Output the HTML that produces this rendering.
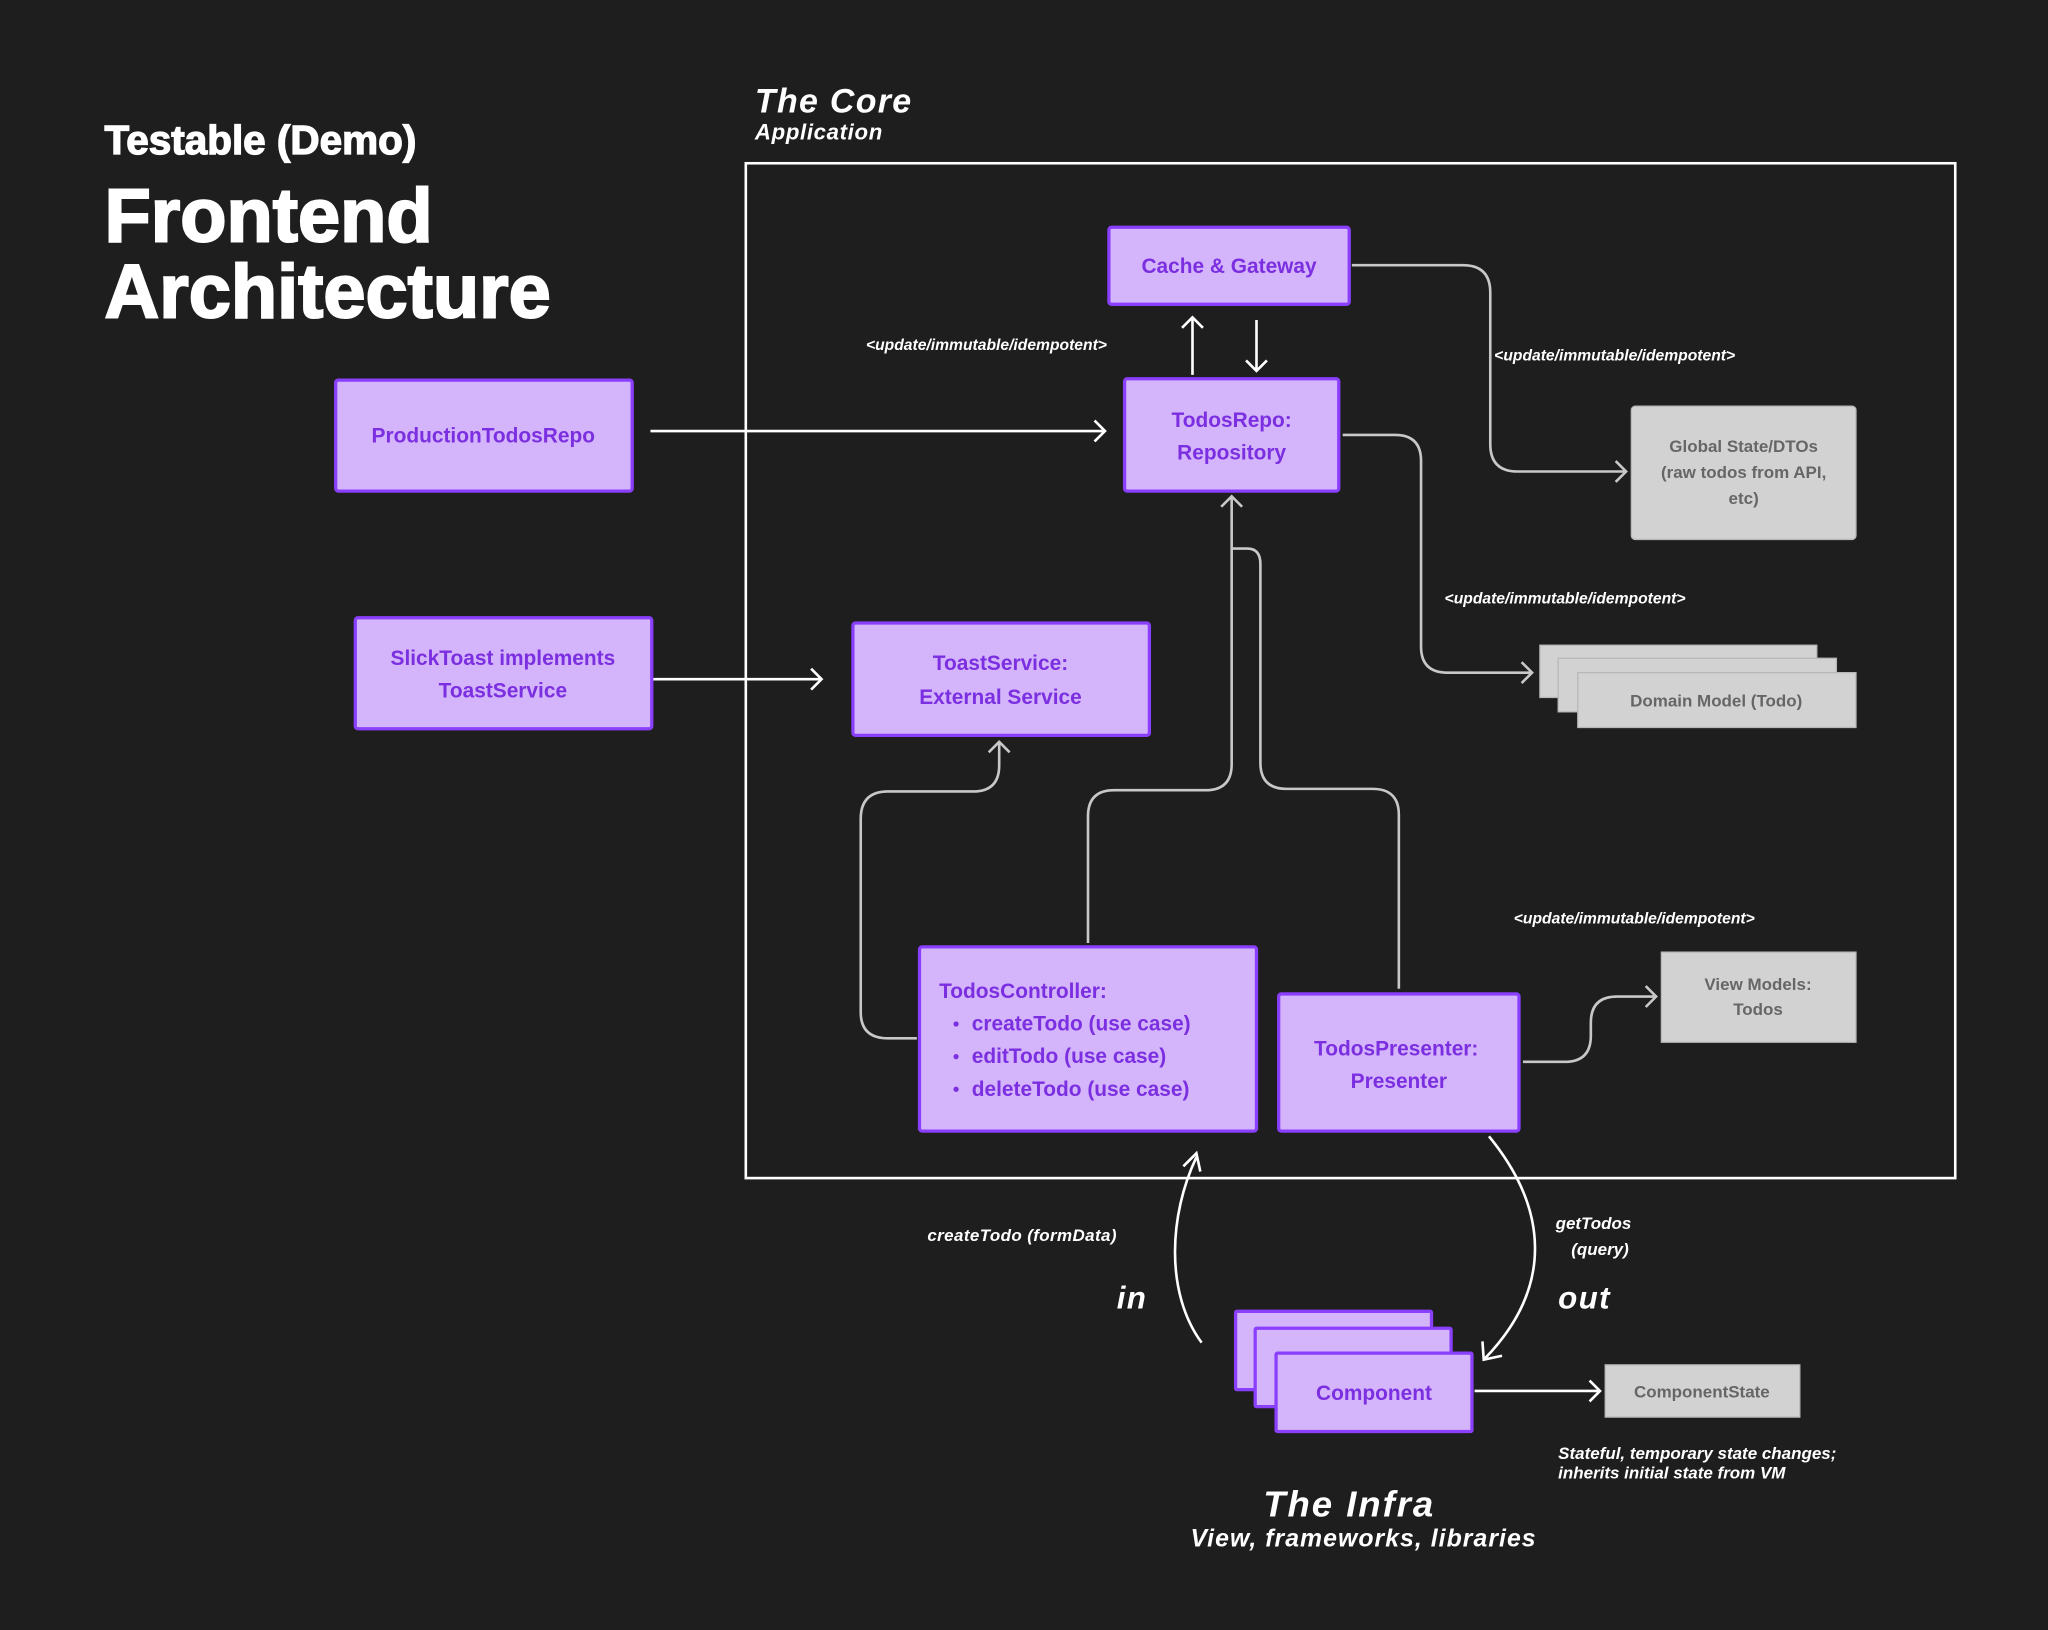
<!DOCTYPE html>
<html><head><meta charset="utf-8"><style>
html,body{margin:0;padding:0;background:#1e1e1e;}
svg{display:block}
text{font-family:"Liberation Sans",sans-serif;}
.b{fill:#d4b5fb;stroke:#8a3ffc;stroke-width:2.5}
.bt{fill:#7b2fe0;font-weight:bold;font-size:16px;text-anchor:middle}
.g{fill:#d2d2d2;stroke:#b8b8b8;stroke-width:1}
.gt{fill:#666;font-weight:bold;font-size:13px;text-anchor:middle}
.w{fill:none;stroke:#fff;stroke-width:2}
.gr{fill:none;stroke:#c8c8c8;stroke-width:2}
.lab{fill:#fff;font-weight:bold;font-style:italic;font-size:12px}
.ttl{fill:#fff;font-weight:bold;stroke:#fff}
</style></head><body>
<svg width="2048" height="1630" viewBox="0 0 1568 1248" xmlns="http://www.w3.org/2000/svg">
<rect width="1568" height="1248" fill="#1e1e1e"/>
<text class="ttl" x="80" y="118" style="font-size:31px;stroke-width:1">Testable (Demo)</text>
<text class="ttl" x="80" y="185" style="font-size:58px;stroke-width:1.6">Frontend</text>
<text class="ttl" x="80" y="243" style="font-size:58px;stroke-width:1.6">Architecture</text>
<text x="578" y="86" fill="#fff" font-weight="bold" font-style="italic" font-size="26" letter-spacing="1">The Core</text>
<text x="578" y="107" fill="#fff" font-weight="bold" font-style="italic" font-size="17" letter-spacing="0.5">Application</text>
<rect x="571" y="125" width="926" height="777" fill="none" stroke="#fff" stroke-width="2"/>

<g class="w">
<path d="M498 330H846M838 322l8 8-8 8"/>
<path d="M913 287V243M905 251l8-8 8 8"/>
<path d="M962 245V284M954 276l8 8 8-8"/>
<path d="M500 520H629M621 512l8 8-8 8"/>
<path d="M920 1028C892 990 895 930 916 886"/>
<path d="M906 893l10-10 3 14"/>
<path d="M1140 870C1185 925 1190 985 1137 1040"/>
<path d="M1135 1027l1 14 14-3"/>
<path d="M1129 1065H1225M1217 1057l8 8-8 8"/>
</g>
<g class="gr">
<path d="M1035 203H1120Q1141 203 1141 224V340Q1141 361 1162 361H1245M1237 353l8 8-8 8"/>
<path d="M1028 333H1068Q1088 333 1088 353V495Q1088 515 1108 515H1173M1165 507l8 8-8 8"/>
<path d="M833 722V625Q833 605 853 605H923Q943 605 943 585V380M935 388l8-8 8 8"/>
<path d="M1071 757V624Q1071 604 1051 604H985Q965 604 965 584V432Q965 420 955 420H943"/>
<path d="M702 795H680Q659 795 659 775V627Q659 606 680 606H745Q765 606 765 586V568M757 576l8-8 8 8"/>
<path d="M1166 813H1198Q1218 813 1218 793V783Q1218 763 1238 763H1268M1260 755l8 8-8 8"/>
</g>

<rect class="b" x="849" y="174" width="184" height="59" rx="2"/>
<text class="bt" x="941" y="209">Cache &amp; Gateway</text>
<rect class="b" x="861" y="290" width="164" height="86" rx="2"/>
<text class="bt" x="943" y="327">TodosRepo:</text>
<text class="bt" x="943" y="352">Repository</text>
<rect class="b" x="257" y="291" width="227" height="85" rx="2"/>
<text class="bt" x="370" y="339">ProductionTodosRepo</text>
<rect class="b" x="272" y="473" width="227" height="85" rx="2"/>
<text class="bt" x="385" y="509">SlickToast implements</text>
<text class="bt" x="385" y="534">ToastService</text>
<rect class="b" x="653" y="477" width="227" height="86" rx="2"/>
<text class="bt" x="766" y="513">ToastService:</text>
<text class="bt" x="766" y="539">External Service</text>
<rect class="b" x="704" y="725" width="258" height="141" rx="2"/>
<g class="bt" style="text-anchor:start">
<text x="719" y="764">TodosController:</text>
<text x="744" y="789">createTodo (use case)</text>
<text x="744" y="814">editTodo (use case)</text>
<text x="744" y="839">deleteTodo (use case)</text>
</g>
<g fill="#7b2fe0"><circle cx="732" cy="784" r="2"/><circle cx="732" cy="809" r="2"/><circle cx="732" cy="834" r="2"/></g>
<rect class="b" x="979" y="761" width="184" height="105" rx="2"/>
<text class="bt" x="1069" y="808">TodosPresenter:</text>
<text class="bt" x="1071" y="833">Presenter</text>
<rect class="b" x="946" y="1004" width="150" height="60" rx="1"/>
<rect class="b" x="961" y="1017" width="150" height="60" rx="1"/>
<rect class="b" x="977" y="1036" width="150" height="60" rx="1"/>
<text class="bt" x="1052" y="1072">Component</text>

<rect class="g" x="1249" y="311" width="172" height="102" rx="3"/>
<text class="gt" x="1335" y="346">Global State/DTOs</text>
<text class="gt" x="1335" y="366">(raw todos from API,</text>
<text class="gt" x="1335" y="386">etc)</text>
<rect class="g" x="1179" y="494" width="212" height="40"/>
<rect class="g" x="1193" y="504" width="213" height="41"/>
<rect class="g" x="1208" y="515" width="213" height="42"/>
<text class="gt" x="1314" y="541">Domain Model (Todo)</text>
<rect class="g" x="1272" y="729" width="149" height="69"/>
<text class="gt" x="1346" y="758">View Models:</text>
<text class="gt" x="1346" y="777">Todos</text>
<rect class="g" x="1229" y="1045" width="149" height="40"/>
<text class="gt" x="1303" y="1070">ComponentState</text>

<text class="lab" x="663" y="268">&lt;update/immutable/idempotent&gt;</text>
<text class="lab" x="1144" y="276">&lt;update/immutable/idempotent&gt;</text>
<text class="lab" x="1106" y="462">&lt;update/immutable/idempotent&gt;</text>
<text class="lab" x="1159" y="707">&lt;update/immutable/idempotent&gt;</text>
<text class="lab" x="710" y="950" style="font-size:13px;letter-spacing:0.3px">createTodo (formData)</text>
<text class="lab" x="1191" y="941" style="font-size:13px">getTodos</text>
<text class="lab" x="1203" y="961" style="font-size:13px">(query)</text>
<text class="lab" x="855" y="1002" style="font-size:24px;letter-spacing:1px">in</text>
<text class="lab" x="1193" y="1002" style="font-size:24px;letter-spacing:1px">out</text>
<text class="lab" x="1193" y="1117" style="font-size:13px">Stateful, temporary state changes;</text>
<text class="lab" x="1193" y="1132" style="font-size:13px">inherits initial state from VM</text>
<text class="lab" x="1033" y="1161" style="font-size:28px;text-anchor:middle;letter-spacing:1.5px">The Infra</text>
<text class="lab" x="1044" y="1184" style="font-size:19px;text-anchor:middle;letter-spacing:0.8px">View, frameworks, libraries</text>
</svg>
</body></html>
